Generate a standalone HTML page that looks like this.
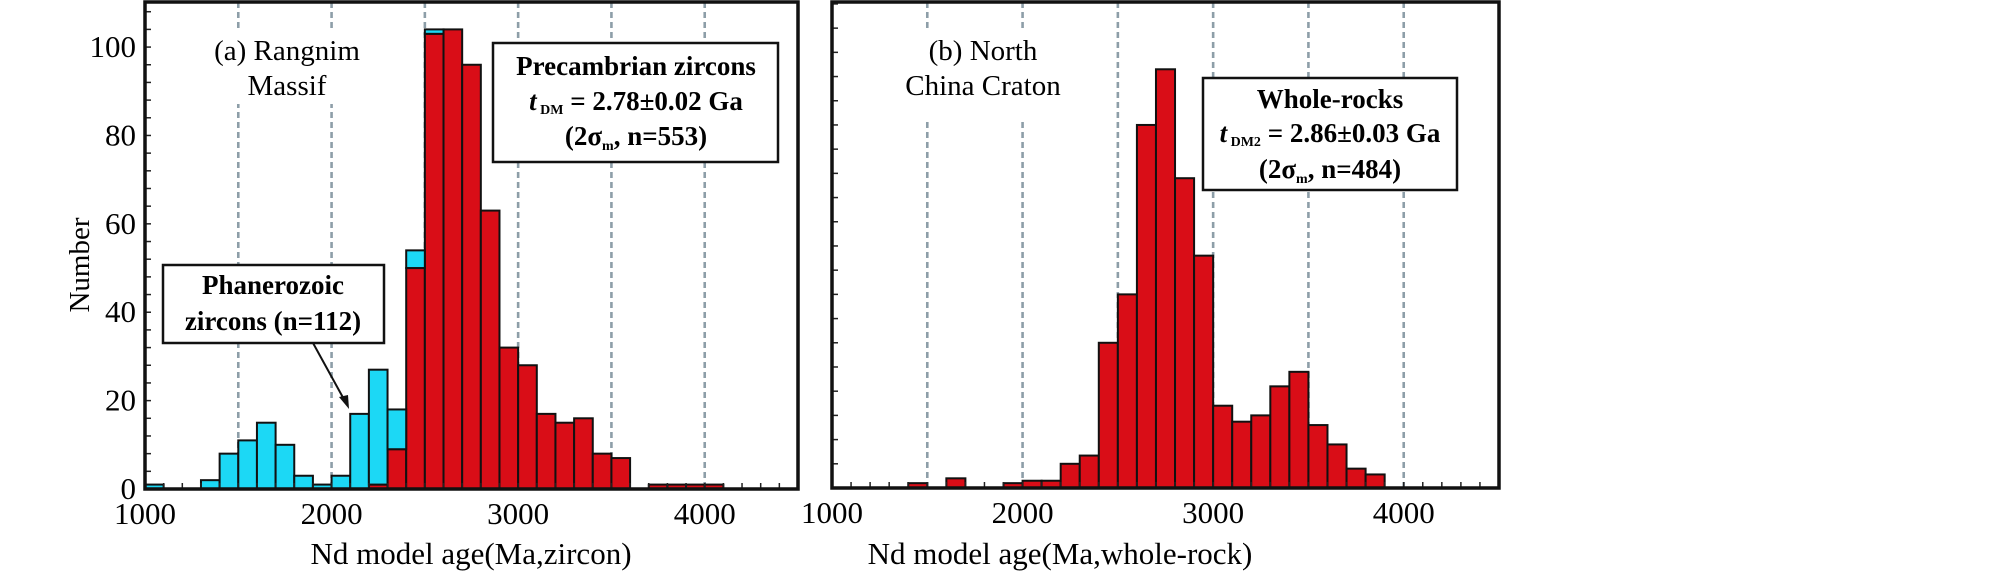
<!DOCTYPE html>
<html><head><meta charset="utf-8">
<style>
html,body{margin:0;padding:0;background:#fff;}
svg{display:block;font-family:"Liberation Serif",serif;}
.b{font-weight:bold;}
</style></head>
<body>
<svg id="chart" width="2008" height="571" viewBox="0 0 2008 571" xmlns="http://www.w3.org/2000/svg">
<rect width="2008" height="571" fill="#fff"/>
<g id="pa"></g>
<g id="pb"></g>
</svg>
<script>
// ---- data ----
const binStartsA = [1000,1100,1200,1300,1400,1500,1600,1700,1800,1900,2000,2100,2200,2300,2400,2500,2600,2700,2800,2900,3000,3100,3200,3300,3400,3500,3600,3700,3800,3900,4000];
const precambrianA = [0,0,0,0,0,0,0,0,0,0,0,0,1,9,50,103,104,96,63,32,28,17,15,16,8,7,0,1,1,1,1];
const phanerozoicA = [1,0,0,2,8,11,15,10,3,1,3,17,26,9,4,1,0,0,0,0,0,0,0,0,0,0,0,0,0,0,0];
const binStartsB = [1400,1500,1600,1700,1800,1900,2000,2100,2200,2300,2400,2500,2600,2700,2800,2900,3000,3100,3200,3300,3400,3500,3600,3700,3800];
const wholeRockB = [1,0,2,0,0,1,1.5,1.5,5,6.7,30,40,75,86.5,64,48,17,13.7,15,21,24,13,9,4,2.8];
const xTickLabels = [1000,2000,3000,4000];
const yTickLabelsA = [0,20,40,60,80,100];
const dashedAges = [1500,2000,2500,3000,3500,4000];
const BIN = 100;

const NS="http://www.w3.org/2000/svg";
function mk(parent,tag,attrs,text){const e=document.createElementNS(NS,tag);for(const k in attrs)e.setAttribute(k,attrs[k]);if(text!==undefined)e.textContent=text;parent.appendChild(e);return e;}

function panel(g, cfg){
  const {x0,x1,y0,y1,xmin,xmax,ymax} = cfg;
  const X=v=>x0+(v-xmin)/(xmax-xmin)*(x1-x0);
  const Y=v=>y1-v/ymax*(y1-y0);
  dashedAges.forEach(a=>{
    const l=mk(g,'line',{x1:X(a),x2:X(a),y1:y0,y2:y1,stroke:'#8d9ea8','stroke-width':2.6,'stroke-dasharray':'6 4'});
    
    
  });
  return {X,Y};
}
function bars(g,X,Y,starts,vals,base,color,name){
  starts.forEach((s,i)=>{
    if(!vals[i])return;
    const b=base?base[i]:0;
    const r=mk(g,'rect',{x:X(s),y:Y(b+vals[i]),width:X(s+BIN)-X(s),height:Y(b)-Y(b+vals[i]),fill:color,stroke:'#111','stroke-width':2});
    
    
  });
}
function frame(g,cfg,X,Y,yMinorStep,labels){
  const {x0,x1,y0,y1,ymax}=cfg;
  for(let v=yMinorStep;v<ymax;v+=yMinorStep){
    mk(g,'line',{x1:x0,x2:x0+6,y1:Y(v),y2:Y(v),stroke:'#222','stroke-width':1.5});
  }
  for(let a=cfg.xmin+100;a<cfg.xmax;a+=100){
    mk(g,'line',{x1:X(a),x2:X(a),y1:y1,y2:y1-6,stroke:'#222','stroke-width':1.5});
  }
  const f=mk(g,'rect',{x:x0,y:y0,width:x1-x0,height:y1-y0,fill:'none',stroke:'#111','stroke-width':3.5});
  
  
  xTickLabels.forEach(v=>{
    const t=mk(g,'text',{x:X(v),y:y1+35,'font-size':31,'text-anchor':'middle'},String(v));
    
    
  });
  if(labels){labels.forEach(v=>{
    const t=mk(g,'text',{x:x0-9,y:Y(v)+10,'font-size':31,'text-anchor':'end'},String(v));
    
    
  });}
}
function box(g,x,y,w,h,name){
  const r=mk(g,'rect',{x:x,y:y,width:w,height:h,fill:'#fff',stroke:'#111','stroke-width':2.5});
  
  
}

// ---- panel A ----
const ga=document.getElementById('pa');
const cA={x0:145,x1:798,y0:2,y1:489,xmin:1000,xmax:4500,ymax:110.2};
const A=panel(ga,cA);
mk(ga,'rect',{x:210,y:32,width:160,height:72,fill:'#fff'});
bars(ga,A.X,A.Y,binStartsA,precambrianA,null,'#d90d17','precambrian');
bars(ga,A.X,A.Y,binStartsA,phanerozoicA,precambrianA,'#1cd8f5','phanerozoic');
frame(ga,cA,A.X,A.Y,4,yTickLabelsA);
let t;
t=mk(ga,'text',{x:287,y:60,'font-size':29,'text-anchor':'middle'},'(a) Rangnim');

t=mk(ga,'text',{x:287,y:95,'font-size':29,'text-anchor':'middle'},'Massif');

box(ga,493,43,285,119,'precambrian-annotation-box');
t=mk(ga,'text',{x:636,y:75,'font-size':27,'text-anchor':'middle',class:'b'},'Precambrian zircons');

t=mk(ga,'text',{x:636,y:110,'font-size':27,'text-anchor':'middle',class:'b'});
t.innerHTML='<tspan font-style="italic">t</tspan><tspan font-size="14" dy="4"> DM</tspan><tspan dy="-4"> = 2.78±0.02 Ga</tspan>';

t=mk(ga,'text',{x:636,y:145,'font-size':27,'text-anchor':'middle',class:'b'});
t.innerHTML='(2σ<tspan font-size="14" dy="5">m</tspan><tspan dy="-5">, n=553)</tspan>';

box(ga,163,265,221,78,'phanerozoic-annotation-box');
t=mk(ga,'text',{x:273,y:294,'font-size':27,'text-anchor':'middle',class:'b'},'Phanerozoic');

t=mk(ga,'text',{x:273,y:330,'font-size':27,'text-anchor':'middle',class:'b'},'zircons (n=112)');

const ar=mk(ga,'line',{x1:313,y1:343,x2:346,y2:403,stroke:'#111','stroke-width':2});

mk(ga,'polygon',{points:'349,409 339,397 348,395',fill:'#111'});
t=mk(ga,'text',{x:79,y:265,'font-size':29,'text-anchor':'middle',transform:'rotate(-90 79 265)',dy:'10'},'Number');

t=mk(ga,'text',{x:471,y:564,'font-size':31,'text-anchor':'middle'},'Nd model age(Ma,zircon)');


// ---- panel B ----
const gb=document.getElementById('pb');
const cB={x0:832,x1:1499,y0:2,y1:488,xmin:1000,xmax:4500,ymax:100.4};
const B=panel(gb,cB);
mk(gb,'rect',{x:885,y:32,width:200,height:86,fill:'#fff'});
bars(gb,B.X,B.Y,binStartsB,wholeRockB,null,'#d90d17','whole-rock');
frame(gb,cB,B.X,B.Y,5,null);
t=mk(gb,'text',{x:983,y:60,'font-size':29,'text-anchor':'middle'},'(b) North');

t=mk(gb,'text',{x:983,y:95,'font-size':29,'text-anchor':'middle'},'China Craton');

box(gb,1203,78,254,112,'whole-rock-annotation-box');
t=mk(gb,'text',{x:1330,y:108,'font-size':27,'text-anchor':'middle',class:'b'},'Whole-rocks');

t=mk(gb,'text',{x:1330,y:142,'font-size':27,'text-anchor':'middle',class:'b'});
t.innerHTML='<tspan font-style="italic">t</tspan><tspan font-size="14" dy="4"> DM2</tspan><tspan dy="-4"> = 2.86±0.03 Ga</tspan>';

t=mk(gb,'text',{x:1330,y:178,'font-size':27,'text-anchor':'middle',class:'b'});
t.innerHTML='(2σ<tspan font-size="14" dy="5">m</tspan><tspan dy="-5">, n=484)</tspan>';

t=mk(gb,'text',{x:1060,y:564,'font-size':31,'text-anchor':'middle'},'Nd model age(Ma,whole-rock)');

</script>
</body></html>
